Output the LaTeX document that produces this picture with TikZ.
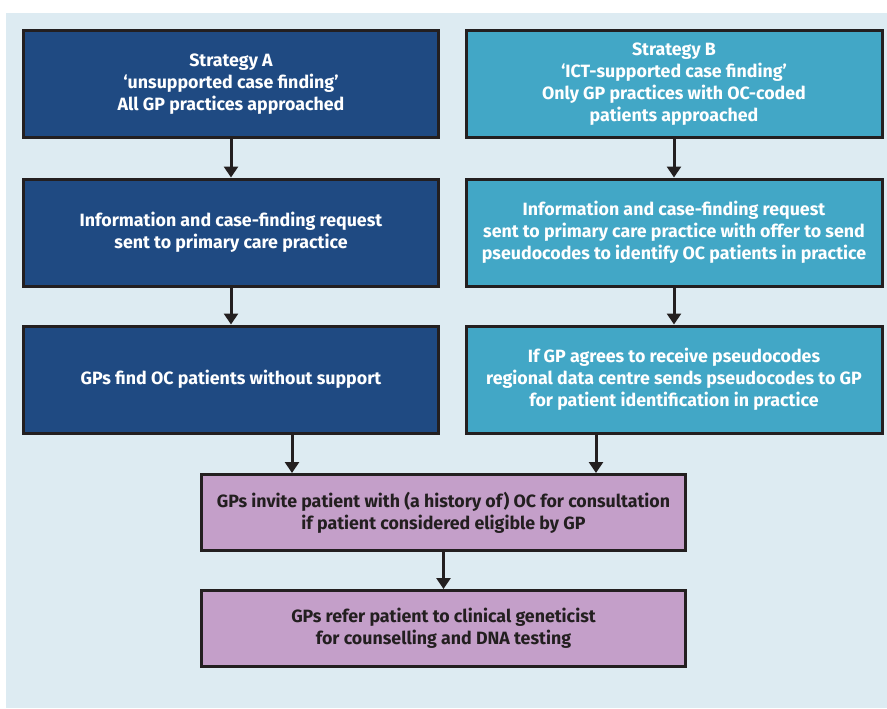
\documentclass[tikz,border=0pt]{standalone}
\usepackage{fontspec}
\setmainfont{Fira Sans}
\usetikzlibrary{arrows.meta}
\definecolor{bgc}{HTML}{DDEBF2}
\definecolor{darkb}{HTML}{1F4A82}
\definecolor{lightb}{HTML}{42A7C6}
\definecolor{purp}{HTML}{C49FC9}
\definecolor{ink}{HTML}{231F20}
\tikzset{
  box/.style={draw=ink, line width=3pt, inner sep=0pt, align=center,
    font=\fontsize{17.8}{22}\selectfont\bfseries},
  boxa/.style={box, fill=darkb, text=white, minimum width=415pt, minimum height=107pt},
  boxb/.style={box, fill=lightb, text=white, minimum width=416pt, minimum height=107pt},
  boxc/.style={box, fill=purp, text=ink, minimum width=484pt, minimum height=76pt},
  arr/.style={draw=ink, line width=3pt, -{Triangle[width=14pt,length=11pt]}}
}
\begin{document}
\begin{tikzpicture}[x=1pt,y=-1pt]
\useasboundingbox (0,0) rectangle (887,709);
\fill[bgc] (6,13) rectangle (887,708);
\node[boxa] (a1) at (231,84) {Strategy A\\‘unsupported case finding’\\All GP practices approached};
\node[boxb] (b1) at (674,84) {Strategy B\\‘ICT-supported case finding’\\Only GP practices with OC-coded\\patients approached};
\node[boxa] (a2) at (231,232.5) {Information and case-finding request\\sent to primary care practice};
\node[boxb] (b2) at (674,232.5) {Information and case-finding request\\sent to primary care practice with offer to send\\pseudocodes to identify OC patients in practice};
\node[boxa] (a3) at (231,379.5) {GPs find OC patients without support};
\node[boxb] (b3) at (674,379.5) {If GP agrees to receive pseudocodes\\regional data centre sends pseudocodes to GP\\for patient identification in practice};
\node[boxc] (c1) at (443.5,512.5) {GPs invite patient with (a history of) OC for consultation\\if patient considered eligible by GP};
\node[boxc] (c2) at (443.5,628.5) {GPs refer patient to clinical geneticist\\for counselling and DNA testing};
\draw[arr] (a1.south) -- (a2.north);
\draw[arr] (b1.south) -- (b2.north);
\draw[arr] (a2.south) -- (a3.north);
\draw[arr] (b2.south) -- (b3.north);
\draw[arr] (a3.south -| 292,0) -- (c1.north -| 292,0);
\draw[arr] (b3.south -| 596,0) -- (c1.north -| 596,0);
\draw[arr] (c1.south) -- (c2.north);
\end{tikzpicture}
\end{document}
